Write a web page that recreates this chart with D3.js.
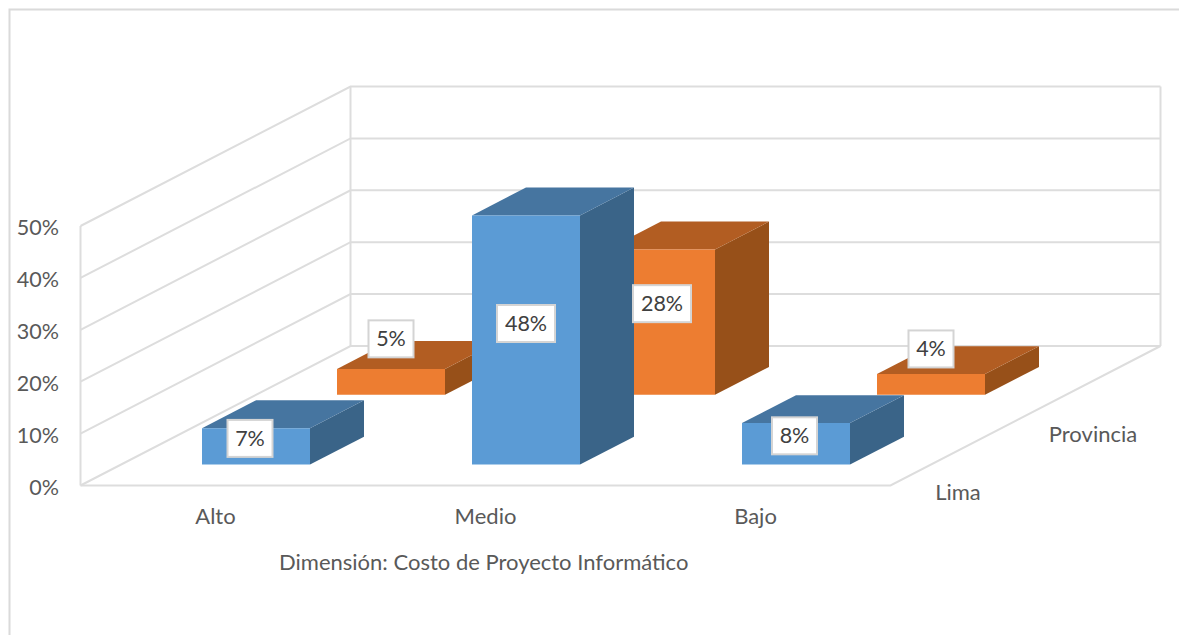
<!DOCTYPE html>
<html lang="es">
<head>
<meta charset="utf-8">
<title>Dimensión: Costo de Proyecto Informático</title>
<script src="https://cdn.jsdelivr.net/npm/d3@7"></script>
<style>
  html, body { margin: 0; padding: 0; background: #fff; }
  svg { display: block; }
  text { font-family: Lato, "Open Sans", sans-serif; }
</style>
</head>
<body>
<svg id="chart" width="1179" height="635"></svg>
<script>
// Chart content
const categories = ["Alto", "Medio", "Bajo"];
const seriesNames = ["Lima", "Provincia"];
const lima = [7, 48, 8];
const provincia = [5, 28, 4];
const yTicks = [0, 10, 20, 30, 40, 50];
const axisTitle = "Dimensión: Costo de Proyecto Informático";
const seriesValues = { Lima: lima, Provincia: provincia };

// Face colours of each 3D column: front, top, side
const faces = {
  Lima: { front: "#5B9BD5", top: "#4675A0", side: "#3A6488" },
  Provincia: { front: "#ED7D31", top: "#B25D22", side: "#975019" }
};
const GRID = "#DDDDDD";
const svg = d3.select("#chart");

// Oblique projection: the floor runs 270px right and 139.5px up from front to back
const depthDX = 270, depthDY = 139.5;
const x = d3.scaleBand().domain(categories).range([80.5, 890.5]).paddingInner(0.6).paddingOuter(0.3);
const z = d3.scaleBand().domain(seriesNames).range([0, 1]).paddingInner(0.6).paddingOuter(0.3);
const y = d3.scaleLinear().domain([0, 50]).range([485.5, 226]);
const project = (px, value, d) => [px + d * depthDX, y(value) - d * depthDY];

// Outer frame: only the top and left edges are visible
svg.append("path")
  .attr("d", "M9.5,635V9.5H1179")
  .attr("fill", "none").attr("stroke", "#DADADA").attr("stroke-width", 2);

// Walls and floor
const wallLine = d3.line();
const grid = svg.append("g").attr("fill", "none").attr("stroke", GRID).attr("stroke-width", 2);
const [x0, x1] = x.range();
yTicks.forEach(t => {
  grid.append("path").attr("d", wallLine([project(x0, t, 0), project(x0, t, 1), project(x1, t, 1)]));
});
grid.append("path").attr("d", wallLine([project(x0, 0, 0), project(x1, 0, 0), project(x1, 0, 1)]));
[[x0, 0], [x0, 1], [x1, 1]].forEach(([px, d]) => {
  grid.append("path").attr("d", wallLine([project(px, 0, d), project(px, 50, d)]));
});

// Columns, back row first so the front row hides what it overlaps
const polygon = pts => pts.map(p => p.join(",")).join(" ");
const bars = svg.append("g");
["Provincia", "Lima"].forEach(name => {
  const d0 = z(name), d1 = d0 + z.bandwidth();
  categories.forEach((cat, i) => {
    const v = seriesValues[name][i];
    const l = x(cat), r = l + x.bandwidth();
    const g = bars.append("g");
    g.append("polygon").attr("fill", faces[name].side)
      .attr("points", polygon([project(r, 0, d0), project(r, 0, d1), project(r, v, d1), project(r, v, d0)]));
    g.append("polygon").attr("fill", faces[name].top)
      .attr("points", polygon([project(l, v, d0), project(r, v, d0), project(r, v, d1), project(l, v, d1)]));
    g.append("polygon").attr("fill", faces[name].front)
      .attr("points", polygon([project(l, 0, d0), project(r, 0, d0), project(r, v, d0), project(l, v, d0)]));
  });
});

// Value labels: white boxes nudged from the middle of each column's front face
const labelNudge = {
  Lima: [[-6, -8], [0, -16.5], [-1.5, -8]],
  Provincia: [[0, -43], [1, -18.5], [0, -35.5]]
};
const labels = svg.append("g");
seriesNames.forEach(name => {
  const d0 = z(name);
  categories.forEach((cat, i) => {
    const v = seriesValues[name][i];
    const [cx, cy] = project(x(cat) + x.bandwidth() / 2, v / 2, d0);
    const lx = cx + labelNudge[name][i][0], ly = cy + labelNudge[name][i][1];
    const txt = v + "%";
    const w = txt.length === 2 ? 45 : 58;
    labels.append("rect")
      .attr("x", lx - w / 2).attr("y", ly - 18.5).attr("width", w).attr("height", 37)
      .attr("fill", "#fff").attr("stroke", "#D4D4D4").attr("stroke-width", 2);
    labels.append("text")
      .attr("x", lx).attr("y", ly + 7.5).attr("text-anchor", "middle")
      .attr("font-size", 21.5).attr("fill", "#404040").text(txt);
  });
});

// Value axis
const yAxis = svg.append("g").attr("transform", "translate(59,2)")
  .call(d3.axisLeft(y).tickValues(yTicks).tickSize(0).tickPadding(0).tickFormat(d => d + "%"));
yAxis.select(".domain").remove();
yAxis.selectAll("text").attr("font-size", 21.5).attr("fill", "#595959")
  .style("font-family", "Lato, sans-serif");

// Category labels along the front edge of the floor
const categoryBaseline = 524;
svg.append("g").selectAll("text").data(categories).join("text")
  .attr("x", d => x(d) + x.bandwidth() / 2)
  .attr("y", categoryBaseline).attr("text-anchor", "middle")
  .attr("font-size", 22).attr("fill", "#595959").text(d => d);

// Series labels along the right edge of the floor
const depthLabelY = d3.scaleLinear().domain([0, 1]).range([528.5, 412.5]);
svg.append("g").selectAll("text").data(seriesNames).join("text")
  .attr("x", d => x1 + (z(d) + z.bandwidth() / 2) * depthDX)
  .attr("y", d => depthLabelY(z(d) + z.bandwidth() / 2))
  .attr("text-anchor", "middle")
  .attr("font-size", 22).attr("fill", "#595959").text(d => d);

// Axis title
svg.append("text").attr("x", 279).attr("y", 570)
  .attr("font-size", 22).attr("fill", "#595959").text(axisTitle);
</script>
</body>
</html>
